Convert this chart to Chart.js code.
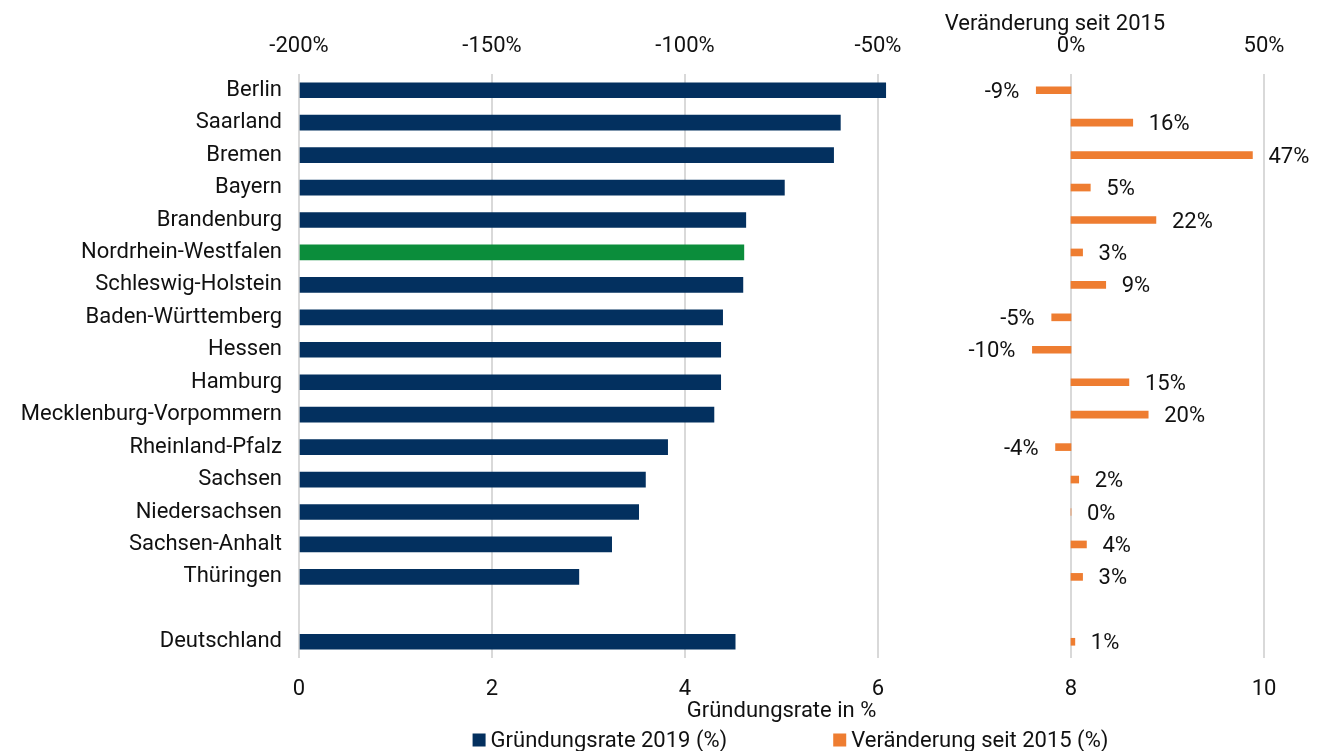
<!DOCTYPE html>
<html lang="de">
<head>
<meta charset="utf-8">
<title>Gründungsrate nach Bundesland</title>
<script src="https://cdn.jsdelivr.net/npm/chart.js@4.4.1/dist/chart.umd.min.js"></script>
<style>
  html, body { margin: 0; padding: 0; background: #fff; }
  #wrap { width: 1328px; height: 751px; }
</style>
</head>
<body>
<div id="wrap"><canvas id="chart"></canvas></div>
<script>
// categories (empty slot before Deutschland is a spacer row)
const laender = ["Berlin", "Saarland", "Bremen", "Bayern", "Brandenburg", "Nordrhein-Westfalen",
  "Schleswig-Holstein", "Baden-Württemberg", "Hessen", "Hamburg", "Mecklenburg-Vorpommern",
  "Rheinland-Pfalz", "Sachsen", "Niedersachsen", "Sachsen-Anhalt", "Thüringen", "", "Deutschland"];

// Gründungsrate 2019 in %
const gruendungsrate = [6.08, 5.61, 5.54, 5.03, 4.63, 4.61, 4.60, 4.39, 4.37, 4.37, 4.30,
  3.82, 3.59, 3.52, 3.24, 2.90, null, 4.52];

// Veränderung seit 2015 in %
const veraenderung = [-9, 16, 47, 5, 22, 3, 9, -5, -10, 15, 20, -4, 2, 0, 4, 3, null, 1];

const rateTicks = [0, 2, 4, 6, 8, 10];
const changeTicks = [-200, -150, -100, -50, 0, 50];

const navy = "#03305f";
const green = "#0b8d3b";
const orange = "#ee7d31";

const barColors = laender.map(l => l === "Nordrhein-Westfalen" ? green : navy);

Chart.defaults.font.family = "Roboto, 'Liberation Sans', sans-serif";
Chart.defaults.font.size = 22;
Chart.defaults.color = "#111";

// value labels next to the orange bars
const changeLabels = {
  id: "changeLabels",
  afterDatasetsDraw(chart) {
    const ctx = chart.ctx;
    const meta = chart.getDatasetMeta(1);
    ctx.save();
    ctx.font = "22px Roboto, 'Liberation Sans', sans-serif";
    ctx.fillStyle = "#111";
    ctx.textBaseline = "middle";
    meta.data.forEach((bar, i) => {
      const v = veraenderung[i];
      if (v === null) return;
      if (v >= 0) {
        ctx.textAlign = "left";
        ctx.fillText(v + "%", Math.max(bar.x, bar.base) + 16, bar.y + 2);
      } else {
        ctx.textAlign = "right";
        ctx.fillText(v + "%", bar.x - 17, bar.y + 2);
      }
    });
    ctx.restore();
  }
};

// title of the upper axis, sitting above the 0% tick, and the legend at the bottom
const extras = {
  id: "extras",
  afterDraw(chart) {
    const ctx = chart.ctx;
    const x2 = chart.scales.x2;
    const area = chart.chartArea;
    ctx.save();
    ctx.font = "22px Roboto, 'Liberation Sans', sans-serif";
    ctx.fillStyle = "#111";
    ctx.textBaseline = "middle";
    ctx.textAlign = "center";
    ctx.fillText("Veränderung seit 2015", x2.getPixelForValue(0) - 16, 24);

    // legend
    const items = chart.data.datasets.map(ds => ({
      text: ds.label,
      color: ds.legendColor
    }));
    const box = 13, gap = 5, itemGap = 106;
    const widths = items.map(it => box + gap + ctx.measureText(it.text).width);
    const total = widths.reduce((a, b) => a + b, 0) + itemGap * (items.length - 1);
    let x = (area.left + area.right) / 2 + 9 - total / 2;
    const y = 740;
    ctx.textAlign = "left";
    items.forEach((it, i) => {
      ctx.fillStyle = it.color;
      ctx.fillRect(x, y - box / 2, box, box);
      ctx.fillStyle = "#111";
      ctx.fillText(it.text, x + box + gap, y + 1);
      x += widths[i] + itemGap;
    });
    ctx.restore();
  }
};

new Chart(document.getElementById("chart"), {
  type: "bar",
  data: {
    labels: laender,
    datasets: [
      {
        label: "Gründungsrate 2019 (%)",
        data: gruendungsrate,
        backgroundColor: barColors,
        legendColor: navy,
        xAxisID: "x",
        barThickness: 15,
        grouped: false,
        order: 2
      },
      {
        label: "Veränderung seit 2015 (%)",
        data: veraenderung,
        backgroundColor: orange,
        legendColor: orange,
        xAxisID: "x2",
        barThickness: 7,
        grouped: false,
        order: 1
      }
    ]
  },
  options: {
    indexAxis: "y",
    responsive: true,
    maintainAspectRatio: false,
    animation: false,
    devicePixelRatio: 1,
    layout: { padding: { left: 0, right: 64, top: 0, bottom: 0 } },
    plugins: {
      legend: { display: false },
      tooltip: { enabled: false }
    },
    scales: {
      y: {
        type: "category",
        offset: true,
        grid: { display: false },
        border: { display: false },
        ticks: { padding: 9, color: "#111", autoSkip: false },
        afterFit: s => { s.width = 299; }
      },
      x: {
        position: "bottom",
        min: 0,
        max: 10,
        grid: { color: "#d9d9d9", lineWidth: 2, drawTicks: false },
        border: { display: false },
        ticks: { padding: 18, color: "#111" },
        afterBuildTicks: s => { s.ticks = rateTicks.map(v => ({ value: v })); },
        title: {
          display: true,
          text: "Gründungsrate in %",
          color: "#111",
          padding: { top: 0, bottom: 26 }
        },
        afterFit: s => { s.height = 93; }
      },
      x2: {
        position: "top",
        min: -200,
        max: 50,
        grid: { display: false, drawTicks: false },
        border: { display: false },
        ticks: { padding: 14, color: "#111", callback: v => v + "%" },
        afterBuildTicks: s => { s.ticks = changeTicks.map(v => ({ value: v })); },
        afterFit: s => { s.height = 74; }
      }
    }
  },
  plugins: [changeLabels, extras]
});
</script>
</body>
</html>
